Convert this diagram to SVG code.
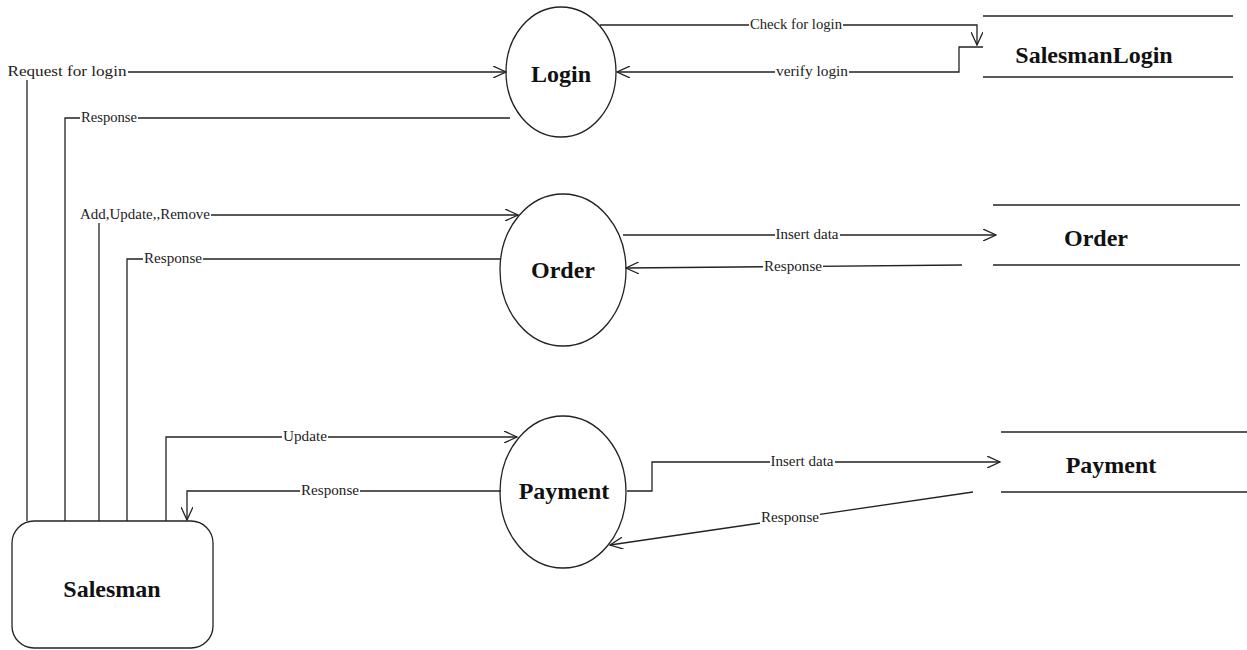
<svg xmlns="http://www.w3.org/2000/svg" width="1247" height="650" viewBox="0 0 1247 650">
  <defs>
    <marker id="arrow" viewBox="0 0 14 12" refX="13" refY="6" markerWidth="14" markerHeight="12" markerUnits="userSpaceOnUse" orient="auto">
      <path d="M0,0 L13,6 L0,12" fill="none" stroke="#222" stroke-width="1.3"/>
    </marker>
    <style>
      .flow { fill: none; stroke: #222; stroke-width: 1.3; }
      .shape { fill: none; stroke: #222; stroke-width: 1.3; }
      .store { stroke: #222; stroke-width: 1.6; }
      .title { font-family: "Liberation Serif", "Times New Roman", serif; font-weight: bold; font-size: 24px; fill: #111; text-anchor: middle; }
      .lbl { font-family: "Liberation Serif", "Times New Roman", serif; font-size: 14px; fill: #222; text-anchor: middle; }
      .bg { fill: #fff; }
    </style>
  </defs>
  <rect width="1247" height="650" fill="#fff"/>

  <!-- data flows -->
  <g id="connectors">
    <!-- Salesman <-> Login -->
    <path class="flow" d="M27,521 V72 H506" marker-end="url(#arrow)"/>
    <path class="flow" d="M510,118 H65 V521"/>
    <!-- Login <-> SalesmanLogin store -->
    <path class="flow" d="M600,25 H977 V45" marker-end="url(#arrow)"/>
    <path class="flow" d="M983,47 H959 V72 H617" marker-end="url(#arrow)"/>
    <!-- Salesman <-> Order -->
    <path class="flow" d="M99,521 V215 H518" marker-end="url(#arrow)"/>
    <path class="flow" d="M501,259 H127 V521"/>
    <!-- Order <-> Order store -->
    <path class="flow" d="M623,235 H996" marker-end="url(#arrow)"/>
    <path class="flow" d="M962,265 L626,268" marker-end="url(#arrow)"/>
    <!-- Salesman <-> Payment -->
    <path class="flow" d="M166,521 V437 H517" marker-end="url(#arrow)"/>
    <path class="flow" d="M501,491 H187 V520" marker-end="url(#arrow)"/>
    <!-- Payment <-> Payment store -->
    <path class="flow" d="M627,491 H652 V462 H1000" marker-end="url(#arrow)"/>
    <path class="flow" d="M973,492 L610,545" marker-end="url(#arrow)"/>

    <!-- flow labels on white backing so the lines break around them -->
    <rect class="bg" x="7" y="65" width="121" height="15"/>
    <text class="lbl" x="67" y="76" textLength="119" lengthAdjust="spacingAndGlyphs">Request for login</text>
    <rect class="bg" x="80" y="111" width="58" height="15"/>
    <text class="lbl" x="109" y="122" textLength="56" lengthAdjust="spacingAndGlyphs">Response</text>
    <rect class="bg" x="749" y="18" width="94" height="15"/>
    <text class="lbl" x="796" y="29" textLength="92" lengthAdjust="spacingAndGlyphs">Check for login</text>
    <rect class="bg" x="775" y="65" width="74" height="15"/>
    <text class="lbl" x="812" y="76" textLength="72" lengthAdjust="spacingAndGlyphs">verify login</text>
    <rect class="bg" x="79" y="208" width="132" height="15"/>
    <text class="lbl" x="145" y="219" textLength="130" lengthAdjust="spacingAndGlyphs">Add,Update,,Remove</text>
    <rect class="bg" x="143" y="252" width="60" height="15"/>
    <text class="lbl" x="173" y="263" textLength="58" lengthAdjust="spacingAndGlyphs">Response</text>
    <rect class="bg" x="775" y="228" width="65" height="15"/>
    <text class="lbl" x="807" y="239" textLength="63" lengthAdjust="spacingAndGlyphs">Insert data</text>
    <rect class="bg" x="763" y="260" width="60" height="15"/>
    <text class="lbl" x="793" y="271" textLength="58" lengthAdjust="spacingAndGlyphs">Response</text>
    <rect class="bg" x="282" y="430" width="46" height="15"/>
    <text class="lbl" x="305" y="441" textLength="44" lengthAdjust="spacingAndGlyphs">Update</text>
    <rect class="bg" x="300" y="484" width="60" height="15"/>
    <text class="lbl" x="330" y="495" textLength="58" lengthAdjust="spacingAndGlyphs">Response</text>
    <rect class="bg" x="770" y="455" width="65" height="15"/>
    <text class="lbl" x="802" y="466" textLength="63" lengthAdjust="spacingAndGlyphs">Insert data</text>
    <rect class="bg" x="760" y="511" width="60" height="15"/>
    <text class="lbl" x="790" y="522" textLength="58" lengthAdjust="spacingAndGlyphs">Response</text>
  </g>

  <!-- external entity -->
  <g id="salesman">
    <rect class="shape" x="12" y="521" width="201" height="127" rx="22" ry="22"/>
    <text class="title" x="112" y="597">Salesman</text>
  </g>

  <!-- processes -->
  <g id="login">
    <ellipse class="shape" cx="561" cy="72" rx="55" ry="65"/>
    <text class="title" x="561" y="82">Login</text>
  </g>
  <g id="order">
    <ellipse class="shape" cx="563" cy="270" rx="63" ry="76"/>
    <text class="title" x="563" y="278">Order</text>
  </g>
  <g id="payment">
    <ellipse class="shape" cx="563" cy="492" rx="63" ry="76"/>
    <text class="title" x="564" y="499">Payment</text>
  </g>

  <!-- data stores -->
  <g id="store-salesman-login">
    <line class="store" x1="983" y1="16" x2="1233" y2="16"/>
    <line class="store" x1="983" y1="77" x2="1233" y2="77"/>
    <text class="title" x="1094" y="63">SalesmanLogin</text>
  </g>
  <g id="store-order">
    <line class="store" x1="993" y1="205" x2="1240" y2="205"/>
    <line class="store" x1="993" y1="265" x2="1240" y2="265"/>
    <text class="title" x="1096" y="246">Order</text>
  </g>
  <g id="store-payment">
    <line class="store" x1="1001" y1="432" x2="1247" y2="432"/>
    <line class="store" x1="1001" y1="492" x2="1247" y2="492"/>
    <text class="title" x="1111" y="473">Payment</text>
  </g>
</svg>
